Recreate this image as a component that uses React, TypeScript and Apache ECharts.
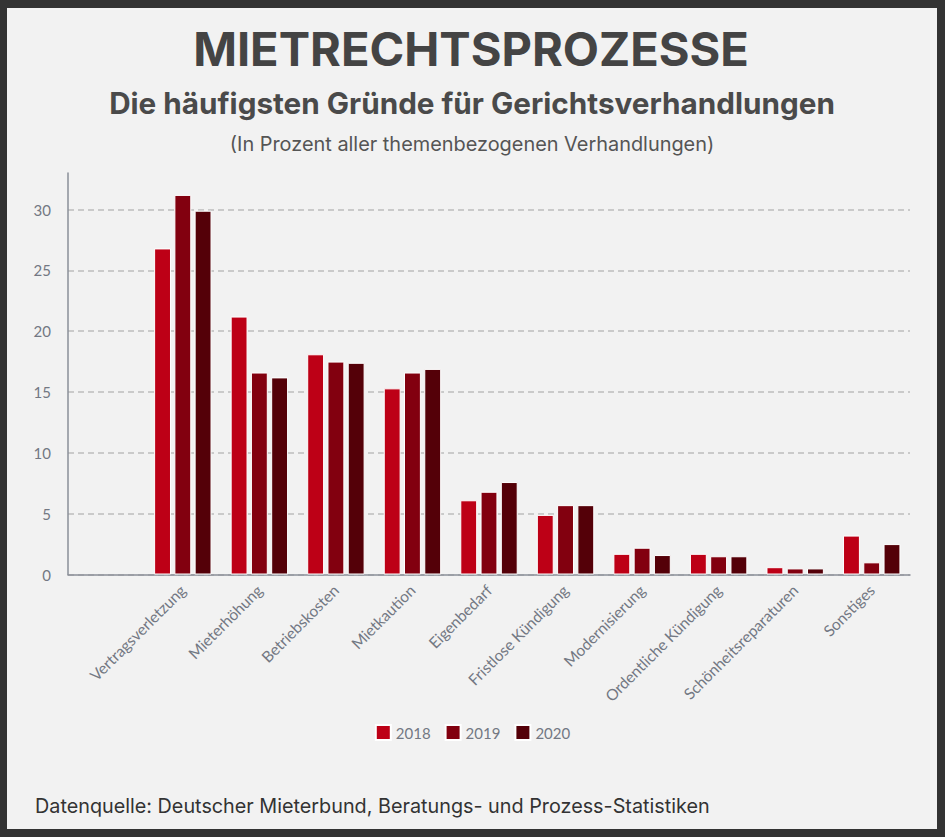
import React, { useEffect, useRef } from "react";
import * as echarts from "echarts";

const categories = [
  "Vertragsverletzung",
  "Mieterhöhung",
  "Betriebskosten",
  "Mietkaution",
  "Eigenbedarf",
  "Fristlose Kündigung",
  "Modernisierung",
  "Ordentliche Kündigung",
  "Schönheitsreparaturen",
  "Sonstiges",
];
const years = ["2018", "2019", "2020"];
const values2018 = [26.8, 21.2, 18.1, 15.3, 6.1, 4.9, 1.7, 1.7, 0.6, 3.2];
const values2019 = [31.2, 16.6, 17.5, 16.6, 6.8, 5.7, 2.2, 1.5, 0.5, 1.0];
const values2020 = [29.9, 16.2, 17.4, 16.9, 7.6, 5.7, 1.6, 1.5, 0.5, 2.5];
const yTicks = [0, 5, 10, 15, 20, 25, 30];
const yMax = 33;

const colors = ["#bd0016", "#82000f", "#540008"];
const labelColor = "#737883";
const titleText = "MIETRECHTSPROZESSE";
const subtitleText = "Die häufigsten Gründe für Gerichtsverhandlungen";
const noteText = "(In Prozent aller themenbezogenen Verhandlungen)";
const sourceText = "Datenquelle: Deutscher Mieterbund, Beratungs- und Prozess-Statistiken";

export default function App() {
  const ref = useRef<HTMLDivElement>(null);
  useEffect(() => {
    if (!ref.current) return;
    const chart = echarts.init(ref.current, undefined, { renderer: "svg" });
    const axisCats = ["", ...categories];
    const seriesData = [values2018, values2019, values2020];
    chart.setOption({
      animation: false,
      backgroundColor: "#333333",
      textStyle: { fontFamily: "Lato" },
      graphic: [
        {
          type: "rect",
          z: -10,
          shape: { x: 7, y: 8, width: 930, height: 821 },
          style: { fill: "#f2f2f2" },
          silent: true,
        },
        {
          type: "text",
          x: 471,
          y: 48,
          style: {
            text: titleText,
            font: "bold 47px Inter",
            fill: "#444444",
            align: "center",
            verticalAlign: "middle",
          },
        },
        {
          type: "text",
          x: 472,
          y: 103,
          style: {
            text: subtitleText,
            font: "bold 29.7px Inter",
            fill: "#4a4a4a",
            align: "center",
            verticalAlign: "middle",
          },
        },
        {
          type: "text",
          x: 472,
          y: 144,
          style: {
            text: noteText,
            font: "19.9px Inter",
            fill: "#555555",
            align: "center",
            verticalAlign: "middle",
          },
        },
        {
          type: "text",
          x: 35,
          y: 806,
          style: {
            text: sourceText,
            font: "19.8px Inter",
            fill: "#333333",
            align: "left",
            verticalAlign: "middle",
          },
        },
      ],
      legend: {
        data: years,
        top: 719,
        left: "center",
        itemWidth: 15,
        itemHeight: 15,
        itemGap: 14,
        icon: "rect",
        textStyle: { color: labelColor, fontSize: 15, fontFamily: "Lato" },
      },
      grid: { left: 68, right: 35, top: 173, bottom: 262.5, containLabel: false },
      xAxis: {
        type: "category",
        data: axisCats,
        axisLine: { lineStyle: { color: "#8a8f98", width: 1.5 } },
        axisTick: { show: false },
        axisLabel: {
          rotate: 45,
          color: labelColor,
          fontSize: 15.5,
          fontFamily: "Lato",
          margin: 13,
          interval: 0,
        },
      },
      yAxis: {
        type: "value",
        min: 0,
        max: yMax,
        interval: yTicks[1] - yTicks[0],
        axisLine: { show: true, lineStyle: { color: "#8a8f98", width: 1.5 } },
        axisTick: { show: false },
        axisLabel: {
          color: labelColor,
          fontSize: 15,
          fontFamily: "Lato",
          margin: 17,
          showMaxLabel: false,
          formatter: (v: number) => (yTicks.includes(v) ? String(v) : ""),
        },
        splitLine: {
          show: true,
          showMaxLine: false,
          lineStyle: { color: "#bdbdbd", type: [6, 4], width: 1.5 },
        },
      },
      series: years.map((y, i) => ({
        name: y,
        type: "bar",
        data: [null, ...seriesData[i]],
        barGap: "20%",
        barCategoryGap: "25%",
        itemStyle: { color: colors[i], borderColor: "#ffffff", borderWidth: 1 },
      })),
    });
    return () => chart.dispose();
  }, []);
  return (
    <div
      ref={ref}
      style={{ position: "fixed", left: 0, top: 0, width: 945, height: 837 }}
    />
  );
}
